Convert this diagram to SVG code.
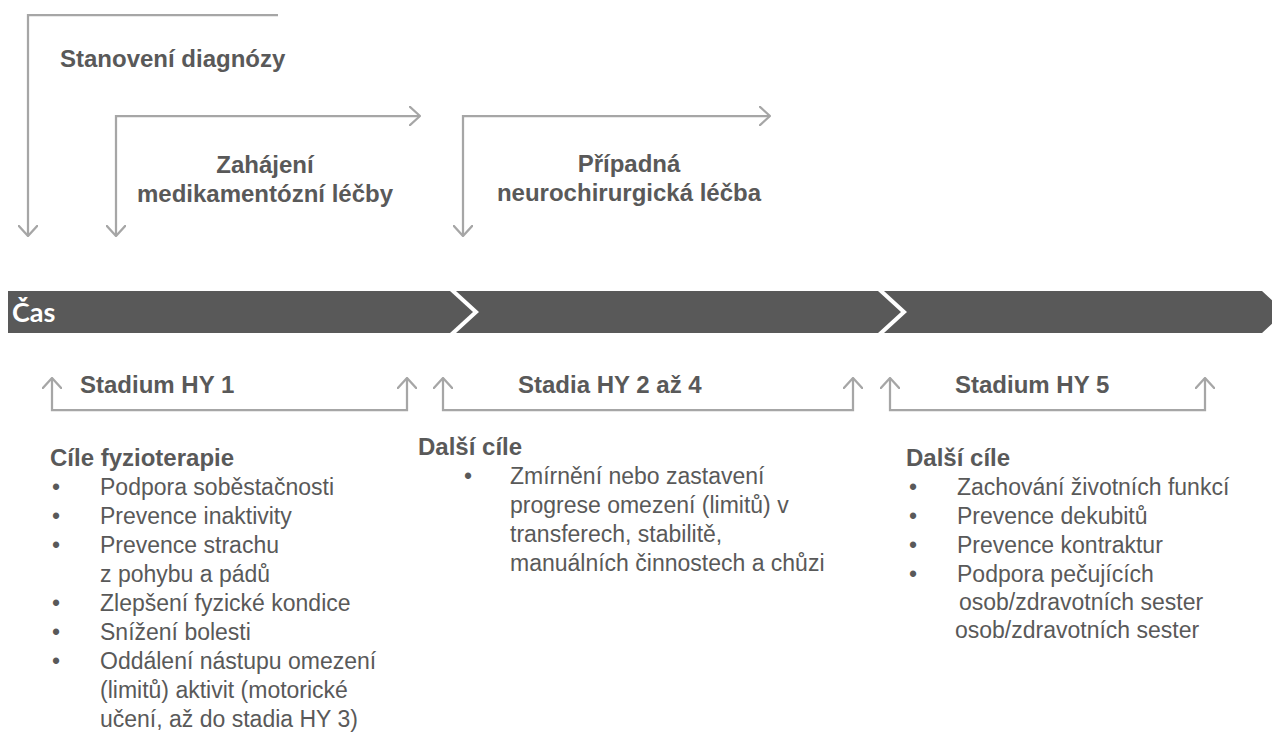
<svg xmlns="http://www.w3.org/2000/svg" width="1272" height="756" viewBox="0 0 1272 756">
<style>
.ln{fill:none;stroke:#A6A6A6;stroke-width:2.25}
.h{font-family:"Liberation Sans",Arial,sans-serif;font-weight:bold;font-size:24px;fill:#595959}
.t{font-family:"Liberation Sans",Arial,sans-serif;font-size:23px;fill:#595959}
.b{font-family:"Liberation Sans",Arial,sans-serif;font-size:23px;fill:#595959}
.bar{fill:#595959}
.cas{font-family:Lato,"Open Sans",sans-serif;font-weight:bold;font-size:27px;fill:#FFFFFF}
</style>
<defs>
<marker id="ah" viewBox="0 0 12 20" refX="11" refY="10" markerWidth="12" markerHeight="20" markerUnits="userSpaceOnUse" orient="auto-start-reverse">
<path d="M0,0 L11,10 L0,20" fill="none" stroke="#A6A6A6" stroke-width="2.25"/>
</marker>
</defs>
<g id="connectors">
<path class="ln" d="M278,15 L28,15 L28,236" marker-end="url(#ah)"/>
<path class="ln" d="M420,116 L116,116 L116,236" marker-start="url(#ah)" marker-end="url(#ah)"/>
<path class="ln" d="M770,116 L463,116 L463,236" marker-start="url(#ah)" marker-end="url(#ah)"/>
<path class="ln" d="M52,378 L52,410 L407,410 L407,378" marker-start="url(#ah)" marker-end="url(#ah)"/>
<path class="ln" d="M443,378 L443,410 L853,410 L853,378" marker-start="url(#ah)" marker-end="url(#ah)"/>
<path class="ln" d="M890,378 L890,410 L1205,410 L1205,378" marker-start="url(#ah)" marker-end="url(#ah)"/>
</g>
<g id="diagnoza"><text class="h" x="60" y="67">Stanovení diagnózy</text></g>
<g id="medikamentozni"><text class="h" x="265" y="173" text-anchor="middle">Zahájení</text><text class="h" x="265" y="202" text-anchor="middle">medikamentózní léčby</text></g>
<g id="neurochirurgicka"><text class="h" x="629" y="172" text-anchor="middle">Případná</text><text class="h" x="629" y="201" text-anchor="middle">neurochirurgická léčba</text></g>
<g id="timeline">
<path class="bar" d="M8,291 H450 L473,312 L450,333 H8 Z"/>
<path class="bar" d="M456,291 H878 L901,312 L878,333 H456 L479,312 Z"/>
<path class="bar" d="M884,291 H1262 L1285,312 L1262,333 H884 L907,312 Z"/>
<text class="cas" x="12" y="322">Čas</text>
</g>
<g id="stadium1"><text class="h" x="80" y="393">Stadium HY 1</text></g>
<g id="stadium2"><text class="h" x="518" y="393">Stadia HY 2 až 4</text></g>
<g id="stadium5"><text class="h" x="955" y="393">Stadium HY 5</text></g>
<g id="cile1">
<text class="h" x="50" y="466">Cíle fyzioterapie</text>
<text class="b" x="52" y="495">•</text><text class="t" x="100" y="495">Podpora soběstačnosti</text>
<text class="b" x="52" y="524">•</text><text class="t" x="100" y="524">Prevence inaktivity</text>
<text class="b" x="52" y="553">•</text><text class="t" x="100" y="553">Prevence strachu</text>
<text class="t" x="100" y="582">z pohybu a pádů</text>
<text class="b" x="52" y="611">•</text><text class="t" x="100" y="611">Zlepšení fyzické kondice</text>
<text class="b" x="52" y="640">•</text><text class="t" x="100" y="640">Snížení bolesti</text>
<text class="b" x="52" y="669">•</text><text class="t" x="100" y="669">Oddálení nástupu omezení</text>
<text class="t" x="100" y="698">(limitů) aktivit (motorické</text>
<text class="t" x="100" y="727">učení, až do stadia HY 3)</text>
</g>
<g id="cile2">
<text class="h" x="418" y="455">Další cíle</text>
<text class="b" x="464" y="484">•</text><text class="t" x="510" y="484">Zmírnění nebo zastavení</text>
<text class="t" x="510" y="513">progrese omezení (limitů) v</text>
<text class="t" x="510" y="542">transferech, stabilitě,</text>
<text class="t" x="510" y="571">manuálních činnostech a chůzi</text>
</g>
<g id="cile3">
<text class="h" x="906" y="466">Další cíle</text>
<text class="b" x="909" y="495">•</text><text class="t" x="957" y="495">Zachování životních funkcí</text>
<text class="b" x="909" y="524">•</text><text class="t" x="957" y="524">Prevence dekubitů</text>
<text class="b" x="909" y="553">•</text><text class="t" x="957" y="553">Prevence kontraktur</text>
<text class="b" x="909" y="582">•</text><text class="t" x="957" y="582">Podpora pečujících</text>
<text class="t" x="959" y="610">osob/zdravotních sester</text>
<text class="t" x="955" y="638">osob/zdravotních sester</text>
</g>
</svg>
